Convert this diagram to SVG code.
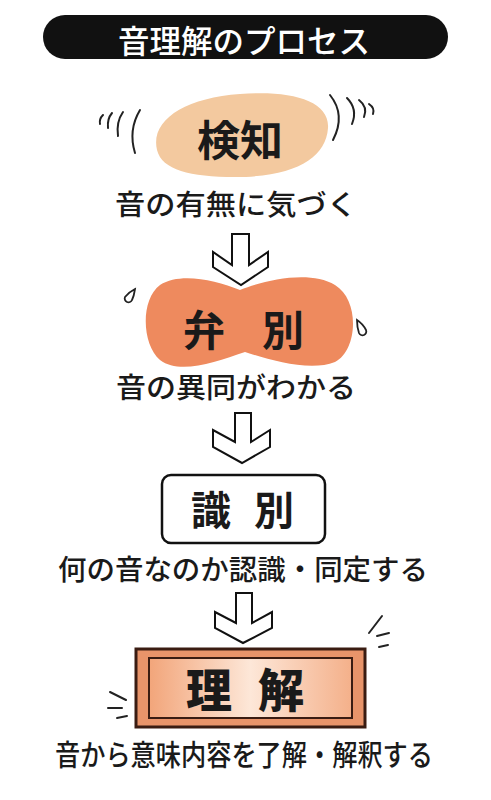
<svg xmlns="http://www.w3.org/2000/svg" width="491" height="800" viewBox="0 0 491 800">
<defs>
<style>
.jp{font-family:"Noto Sans CJK JP","Noto Sans",sans-serif;fill:#1a1a1a}
.sub{font-size:28px;font-weight:500}
.big{font-size:42px;font-weight:700}
.arrow{fill:#fff;stroke:#111;stroke-width:2;stroke-linejoin:miter}
.mark{fill:none;stroke:#222;stroke-width:2;stroke-linecap:round}
.drop{fill:#fff;stroke:#222;stroke-width:1.8}
</style>
<linearGradient id="g" x1="0" y1="0" x2="1" y2="0">
<stop offset="0" stop-color="#f2a57a"/>
<stop offset="0.5" stop-color="#fde7d8"/>
<stop offset="1" stop-color="#f4b08a"/>
</linearGradient>
</defs>
<rect width="491" height="800" fill="#fff"/>

<g id="title">
<rect x="43" y="15" width="405" height="44" rx="22" fill="#111"/>
<text x="118" y="53" class="jp" style="fill:#fff;font-size:32px;font-weight:500" textLength="252" lengthAdjust="spacingAndGlyphs">音理解のプロセス</text>
</g>

<g id="kenchi">
<path d="M157,150 C150,120 185,98 240,94 C290,90 330,100 328,128 C326,158 295,177 235,177 C190,177 162,170 157,150 Z" fill="#f3c99f"/>
<path class="mark" d="M103,115 Q99,119 100,124 M112,113 Q107,119 108,128 M123,112 Q116,122 118,136 M140,110 Q128,130 135,153"/>
<path class="mark" d="M330,95 Q346,115 333,140 M347,98 Q358,109 352,124 M359,100 Q368,107 364,117 M369,104 Q375,108 373,114"/>
<text x="197" y="156" class="jp big" textLength="86" lengthAdjust="spacingAndGlyphs">検知</text>
<text x="115" y="215" class="jp sub" textLength="242" lengthAdjust="spacingAndGlyphs">音の有無に気づく</text>
</g>

<g id="benbetsu">
<path d="M160,285 C180,272 215,280 240,290 C265,280 310,270 335,285 C360,300 358,350 335,362 C310,372 270,360 245,352 C215,362 180,375 160,360 C142,345 140,300 160,285 Z" fill="#ee8a5e"/>
<path class="drop" d="M135,289 Q134,296 132,300 A3.8,3.8 0 1 1 125,297 Q129,292 135,289 Z"/>
<path class="drop" d="M357,320 Q363,324 366,330 A3.8,3.8 0 1 1 359,333 Q357,327 357,320 Z"/>
<text x="204" y="346" class="jp big" text-anchor="middle">弁</text>
<text x="283" y="346" class="jp big" text-anchor="middle">別</text>
<text x="116" y="398" class="jp sub" textLength="240" lengthAdjust="spacingAndGlyphs">音の異同がわかる</text>
</g>

<g id="shikibetsu">
<rect x="162" y="475" width="163" height="68" rx="9" fill="#fff" stroke="#111" stroke-width="2.5"/>
<text x="211" y="525" class="jp big" style="font-size:40px" text-anchor="middle">識</text>
<text x="274" y="525" class="jp big" style="font-size:40px" text-anchor="middle">別</text>
<text x="58" y="580" class="jp sub" textLength="370" lengthAdjust="spacingAndGlyphs">何の音なのか認識・同定する</text>
</g>

<g id="rikai">
<path class="mark" d="M369,633 L382,616 M377,636 L389,633 M379,647 L388,645"/>
<path class="mark" d="M110,692 L126,700 M108,708 L122,708 M117,718 L127,716"/>
<rect x="136" y="649" width="229" height="78" fill="#e8946a" stroke="#3a1c12" stroke-width="3"/>
<rect x="149" y="658" width="203" height="60" fill="url(#g)" stroke="#3a1c12" stroke-width="2"/>
<text x="209" y="707" class="jp" style="font-size:46px;font-weight:900" text-anchor="middle">理</text>
<text x="281" y="707" class="jp" style="font-size:46px;font-weight:900" text-anchor="middle">解</text>
<text x="55" y="766" class="jp sub" style="font-size:29px" textLength="378" lengthAdjust="spacingAndGlyphs">音から意味内容を了解・解釈する</text>
</g>

<g id="connectors">
<polygon class="arrow" points="232,234 249,234 249,265 268,252 268,267 241,285 213,267 213,252 232,265"/>
<polygon class="arrow" points="235,413 251,413 251,442 270,430 270,447 242,463 213,447 213,430 235,442"/>
<polygon class="arrow" points="236,593 252,593 252,623 272,612 272,628 243,643 215,628 215,612 236,623"/>
</g>
</svg>
